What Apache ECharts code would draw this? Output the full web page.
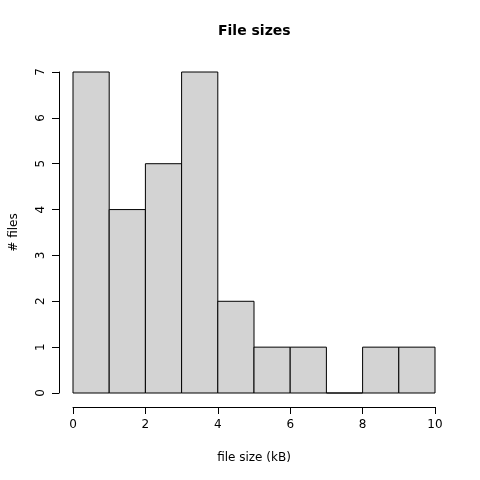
<!DOCTYPE html>
<html>
<head>
<meta charset="utf-8">
<script src="https://cdn.jsdelivr.net/npm/echarts@6/dist/echarts.min.js"></script>
<style>
  html, body { margin: 0; padding: 0; background: #fff; }
  #chart { width: 480px; height: 480px; }
</style>
</head>
<body>
<div id="chart"></div>
<script>
  // histogram bins (kB) and counts
  const binStarts = [0, 1, 2, 3, 4, 5, 6, 7, 8, 9]
  const binEnds = [1, 2, 3, 4, 5, 6, 7, 8, 9, 10]
  const counts = [7, 4, 5, 7, 2, 1, 1, 0, 1, 1]
  const xTicks = [0, 2, 4, 6, 8, 10]
  const yTicks = [0, 1, 2, 3, 4, 5, 6, 7]

  const font = 'DejaVu Sans'
  const chart = echarts.init(document.getElementById('chart'))

  chart.setOption({
    animation: false,
    backgroundColor: '#fff',
    textStyle: { fontFamily: font },
    title: {
      text: 'File sizes',
      left: 213,
      top: 19,
      textStyle: { fontFamily: font, fontSize: 14, fontWeight: 'bold', color: '#000' }
    },
    grid: { left: 73, right: 45, top: 72, bottom: 87, containLabel: false, outerBoundsMode: 'none' },
    xAxis: {
      type: 'value',
      min: xTicks[0],
      max: xTicks[xTicks.length - 1],
      interval: 2,
      offset: 14,
      name: 'file size (kB)',
      nameLocation: 'middle',
      nameGap: 45,
      nameTextStyle: { fontFamily: font, fontSize: 12, color: '#000' },
      axisLine: { show: true, onZero: false, lineStyle: { color: '#000', width: 1 } },
      axisTick: { show: true, length: 7, lineStyle: { color: '#000' } },
      axisLabel: { fontFamily: font, fontSize: 12, color: '#000', margin: 12 },
      splitLine: { show: false }
    },
    yAxis: {
      type: 'value',
      min: yTicks[0],
      max: yTicks[yTicks.length - 1],
      interval: 1,
      offset: 14,
      name: '# files',
      nameLocation: 'middle',
      nameGap: 39,
      nameRotate: 90,
      nameTextStyle: { fontFamily: font, fontSize: 12, color: '#000' },
      axisLine: { show: true, onZero: false, lineStyle: { color: '#000', width: 1 } },
      axisTick: { show: true, length: 7, lineStyle: { color: '#000' } },
      axisLabel: { fontFamily: font, fontSize: 12, color: '#000', rotate: 90, margin: 12 },
      splitLine: { show: false }
    },
    series: [{
      type: 'custom',
      data: counts.map((c, i) => [binStarts[i], binEnds[i], c]),
      renderItem (params, api) {
        const p0 = api.coord([api.value(0), 0])
        const p1 = api.coord([api.value(1), api.value(2)])
        return {
          type: 'rect',
          shape: { x: p0[0], y: p1[1], width: p1[0] - p0[0], height: p0[1] - p1[1] },
          style: { fill: '#d3d3d3', stroke: '#000', lineWidth: 1 }
        }
      }
    }]
  })
</script>
</body>
</html>
